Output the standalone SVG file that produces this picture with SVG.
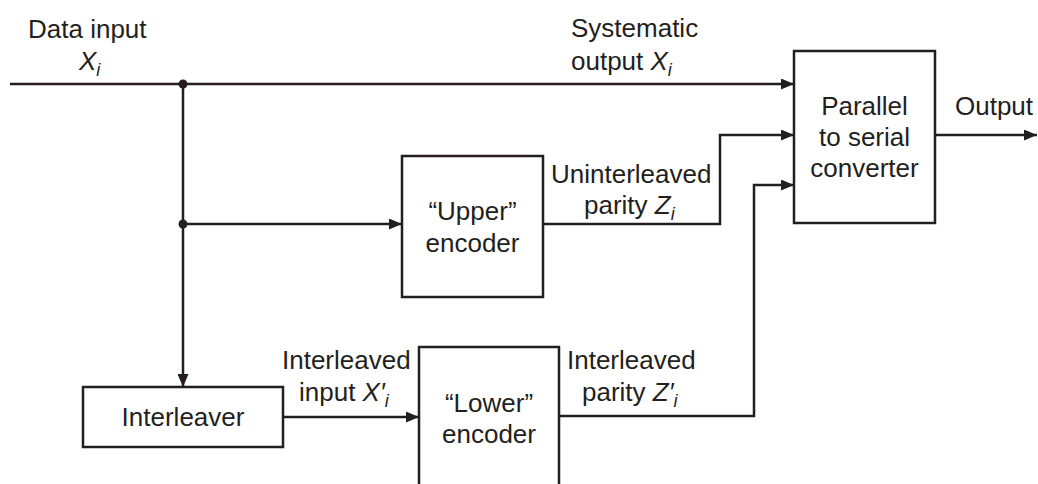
<svg xmlns="http://www.w3.org/2000/svg" width="1038" height="484" viewBox="0 0 1038 484">
<style>
.box{fill:#fff;stroke:#231f20;stroke-width:2.5}
.ln{fill:none;stroke:#231f20;stroke-width:2.5}
text{font-family:"Liberation Sans",Arial,sans-serif;font-size:26px;fill:#231f20}
.c{text-anchor:middle}
.it{font-style:italic}
.sub{font-style:italic;font-size:18px}
</style>
<defs>
<marker id="ah" markerUnits="userSpaceOnUse" markerWidth="13" markerHeight="11" refX="13" refY="5.5" orient="auto">
<path d="M0,0 L13,5.5 L0,11 z" fill="#231f20"/>
</marker>
</defs>
<g id="connectors">
<path class="ln" d="M10,84 H794" marker-end="url(#ah)"/>
<path class="ln" d="M183,84 V387" marker-end="url(#ah)"/>
<path class="ln" d="M183,224 H402" marker-end="url(#ah)"/>
<path class="ln" d="M543,224 H720 V135 H794" marker-end="url(#ah)"/>
<path class="ln" d="M283,417 H419" marker-end="url(#ah)"/>
<path class="ln" d="M559,416 H754 V185 H794" marker-end="url(#ah)"/>
<path class="ln" d="M935,135 H1037" marker-end="url(#ah)"/>
<circle cx="183" cy="84" r="4.5" fill="#231f20"/>
<circle cx="183" cy="224" r="4.5" fill="#231f20"/>
</g>
<g id="labels">
<text x="28" y="38">Data input</text>
<text x="79" y="70"><tspan class="it">X</tspan><tspan class="sub" dy="6">i</tspan></text>
<text x="571" y="37">Systematic</text>
<text x="571" y="70">output <tspan class="it">X</tspan><tspan class="sub" dy="6">i</tspan></text>
<text x="955" y="115">Output</text>
<text x="551" y="183">Uninterleaved</text>
<text x="584" y="214">parity <tspan class="it">Z</tspan><tspan class="sub" dy="6">i</tspan></text>
<text x="282" y="369">Interleaved</text>
<text x="299" y="401">input <tspan class="it">X′</tspan><tspan class="sub" dy="6">i</tspan></text>
<text x="567" y="369">Interleaved</text>
<text x="582" y="401">parity <tspan class="it">Z′</tspan><tspan class="sub" dy="6">i</tspan></text>
</g>
<g id="parallel">
<rect class="box" x="794" y="51" width="141" height="172"/>
<text class="c" x="864.5" y="115">Parallel</text>
<text class="c" x="864.5" y="146">to serial</text>
<text class="c" x="864.5" y="177">converter</text>
</g>
<g id="upper">
<rect class="box" x="402" y="156" width="141" height="141"/>
<text class="c" x="472.5" y="220">“Upper”</text>
<text class="c" x="472.5" y="252">encoder</text>
</g>
<g id="interleaver">
<rect class="box" x="83" y="387" width="200" height="60"/>
<text class="c" x="183" y="426">Interleaver</text>
</g>
<g id="lower">
<rect class="box" x="419" y="347" width="140" height="160"/>
<text class="c" x="489" y="412">“Lower”</text>
<text class="c" x="489" y="443">encoder</text>
</g>
</svg>
